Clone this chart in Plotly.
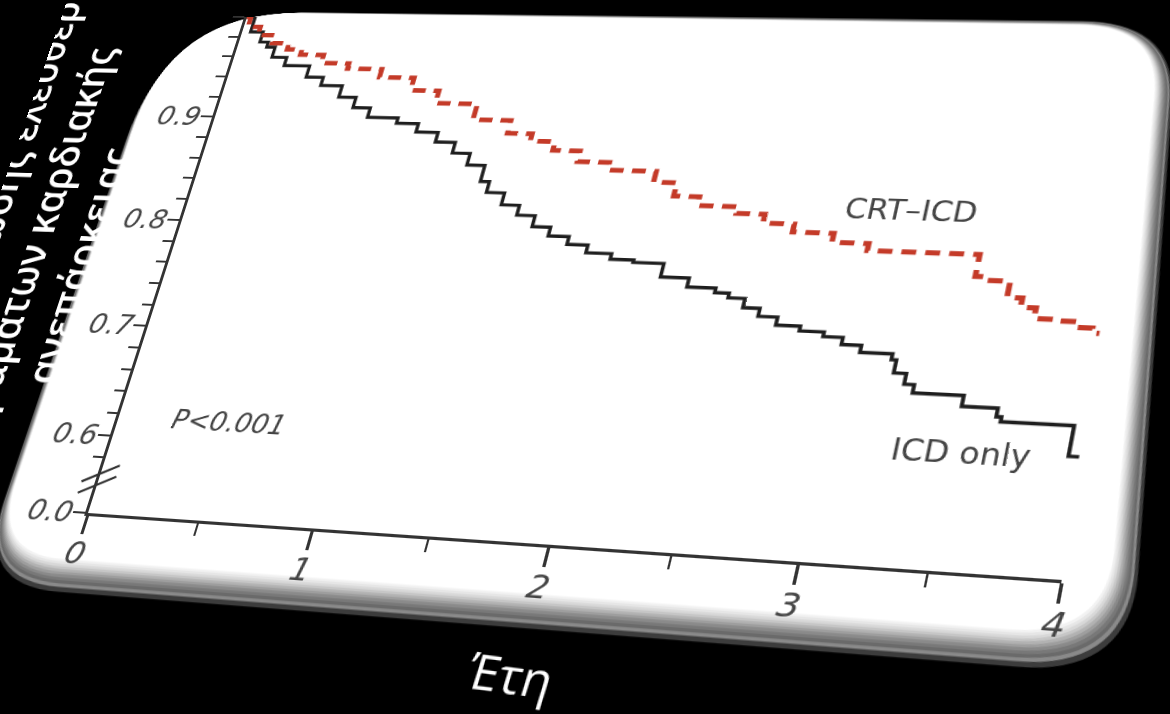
import numpy as np
import plotly.graph_objects as go

# ---------------- data ----------------
icd_years = [0, 0.04, 0.10, 0.14, 0.18, 0.25, 0.37, 0.45, 0.55, 0.63, 0.71, 0.85, 0.95, 1.05,
             1.14, 1.22, 1.30, 1.34, 1.42, 1.50, 1.58, 1.66, 1.75, 1.84, 1.95, 2.05, 2.18,
             2.30, 2.42, 2.48, 2.55, 2.62, 2.70, 2.80, 2.90, 2.98, 3.06, 3.19, 3.21, 3.26,
             3.30, 3.50, 3.64, 3.66, 3.94, 3.98]
icd_surv = [1.0, 0.985, 0.975, 0.970, 0.960, 0.952, 0.941, 0.933, 0.922, 0.912, 0.903, 0.898,
            0.890, 0.881, 0.871, 0.860, 0.845, 0.835, 0.824, 0.815, 0.805, 0.797, 0.790, 0.783,
            0.778, 0.776, 0.764, 0.756, 0.752, 0.748, 0.740, 0.733, 0.726, 0.722, 0.718, 0.712,
            0.706, 0.701, 0.690, 0.681, 0.674, 0.665, 0.658, 0.654, 0.629, 0.629]

crt_years = [0, 0.02, 0.08, 0.16, 0.24, 0.31, 0.42, 0.55, 0.71, 0.87, 1.00, 1.19, 1.36, 1.47,
             1.58, 1.70, 1.84, 2.05, 2.15, 2.26, 2.43, 2.55, 2.68, 2.85, 3.00, 3.45, 3.50,
             3.59, 3.65, 3.71, 3.81, 3.88, 3.94, 3.97]
crt_surv = [1.0, 0.990, 0.982, 0.974, 0.968, 0.963, 0.955, 0.950, 0.942, 0.930, 0.918, 0.903,
            0.891, 0.884, 0.876, 0.866, 0.859, 0.849, 0.837, 0.829, 0.823, 0.815, 0.808, 0.800,
            0.794, 0.775, 0.772, 0.758, 0.750, 0.741, 0.740, 0.735, 0.731, 0.731]

x_tick_vals = [0, 1, 2, 3, 4]
x_tick_text = ["0", "1", "2", "3", "4"]
x_minor_vals = [0.5, 1.5, 2.5, 3.5]
y_tick_real = [0.0, 0.6, 0.7, 0.8, 0.9, 1.0]
y_tick_text = ["0.0", "0.6", "0.7", "0.8", "0.9", "1.0"]

series_names = ["ICD only", "CRT\u2013ICD"]
y_title = "Πιθανότητα επιβίωσης ελεύθερης<br>συμβαμάτων καρδιακής<br>ανεπάρκειας"
x_title = "Έτη"
p_text = "P<0.001"

# ---------------- axis break: 0.0 drawn just below 0.6 ----------------
Y_ZERO_POS = 0.531
def ypos(v):
    return Y_ZERO_POS + v if v < 0.5 else v

y_tick_vals = [ypos(v) for v in y_tick_real]
y_minor_vals = [round(v, 2) for v in np.arange(0.58, 1.0, 0.02)
                if min(abs(v - t) for t in y_tick_vals) > 1e-6]
# the top label sits off the slide's rounded corner, where it is hidden
y_tick_labels = [f'<span style="color:#000000">{t}</span>' if v == 1.0 else t
                 for v, t in zip(y_tick_real, y_tick_text)]

# ---------------- flat layout geometry ----------------
FIG_W, FIG_H = 1300, 820
L, T, W, H = 200, 80, 880, 532
X0, X1 = 0.0, 4.0
Y0, Y1 = Y_ZERO_POS, 1.0

def to_px(x, y):
    return L + (x - X0) / (X1 - X0) * W, T + (Y1 - y) / (Y1 - Y0) * H

def px_to_paper(fx, fy):
    return (fx - L) / W, (T + H - fy) / H

def d2p(x, y):
    return px_to_paper(*to_px(x, y))

def rounded_path(corners, radii):
    pts = [np.array(to_px(*c)) for c in corners]
    n = len(pts)
    segs = []
    for i in range(n):
        p, prv, nxt = pts[i], pts[i - 1], pts[(i + 1) % n]
        r = radii[i]
        a = p + r * (prv - p) / np.linalg.norm(prv - p)
        b = p + r * (nxt - p) / np.linalg.norm(nxt - p)
        segs.append((a, p, b))
    def P(q):
        px, py = px_to_paper(*q)
        return f"{px:.5f},{py:.5f}"
    d = f"M{P(segs[0][0])} Q{P(segs[0][1])} {P(segs[0][2])}"
    for a, p, b in segs[1:]:
        d += f" L{P(a)} Q{P(p)} {P(b)}"
    return d + " Z"

# card outline (outer bevel edge and inner white face), in data units: TL, TR, BR, BL
card_outer = np.array([(-0.385, 1.005), (4.05, 1.005), (4.31, 0.462), (-0.40, 0.462)])
card_inner = np.array([(-0.372, 1.005), (3.985, 1.001), (4.20, 0.490), (-0.372, 0.490)])
card_radii = np.array([150, 84, 90, 84])
bevel_colors = ["#3c3c3c", "#8a8a8a", "#6a6a6a", "#787878", "#8a8a8a", "#9e9e9e", "#b2b2b2",
                "#c6c6c6", "#d8d8d8", "#e6e6e6", "#f2f2f2", "#ffffff"]

shapes = []
nlay = len(bevel_colors)
for k, col in enumerate(bevel_colors):
    t = (k / (nlay - 1)) ** 0.8
    c = card_outer + t * (card_inner - card_outer)
    shapes.append(dict(type="path", xref="paper", yref="paper", layer="below",
                       path=rounded_path(c, card_radii - 12 * t), fillcolor=col,
                       line=dict(width=0)))

# axis break marks
BREAK_Y = [0.566, 0.556]
for by in BREAK_Y:
    xa, ya = d2p(-0.075, by - 0.008)
    xb, yb = d2p(0.075, by + 0.008)
    shapes.append(dict(type="line", xref="paper", yref="paper", layer="above",
                       x0=xa, y0=ya, x1=xb, y1=yb, line=dict(color="#333", width=2.4)))

# ---------------- figure ----------------
fig = go.Figure()
fig.add_trace(go.Scatter(x=icd_years, y=icd_surv, mode="lines", name=series_names[0],
                         line=dict(color="#1e1e1e", width=3.4, shape="hv")))
fig.add_trace(go.Scatter(x=crt_years, y=crt_surv, mode="lines", name=series_names[1],
                         line=dict(color="#C43A28", width=5, shape="hv", dash="13px,8px")))

tick_col = "#333333"
lab_col = "#454545"
fig.update_layout(
    width=FIG_W, height=FIG_H,
    margin=dict(l=L, r=FIG_W - L - W, t=T, b=FIG_H - T - H),
    paper_bgcolor="black", plot_bgcolor="rgba(0,0,0,0)",
    showlegend=False,
    shapes=shapes,
    xaxis=dict(range=[X0, X1], showline=True, linecolor=tick_col, linewidth=2.6,
               ticks="outside", tickvals=x_tick_vals, ticktext=x_tick_text,
               ticklen=18, tickwidth=2.6, tickcolor=tick_col, ticklabelstandoff=-8,
               tickfont=dict(family="DejaVu Sans", size=31, color=lab_col, style="italic"),
               minor=dict(tickmode="array", tickvals=x_minor_vals, ticks="outside",
                          ticklen=12, tickwidth=2.3, tickcolor=tick_col),
               showgrid=False, zeroline=False),
    yaxis=dict(range=[Y0, Y1], showline=True, linecolor=tick_col, linewidth=2.6,
               ticks="outside", tickvals=y_tick_vals, ticktext=y_tick_labels,
               ticklen=12, tickwidth=2.3, tickcolor=tick_col, ticklabelstandoff=-5,
               tickfont=dict(family="DejaVu Sans", size=28, color=lab_col, style="italic"),
               minor=dict(tickmode="array", tickvals=y_minor_vals, ticks="outside",
                          ticklen=10, tickwidth=2.1, tickcolor=tick_col),
               showgrid=False, zeroline=False),
)

fig.add_annotation(x=0.50, y=0.617, text=p_text, showarrow=False,
                   font=dict(family="DejaVu Sans", size=26, color="#444", style="italic"))
fig.add_annotation(x=3.14, y=0.830, text=series_names[1], showarrow=False,
                   font=dict(family="DejaVu Sans", size=28, color="#444"))
fig.add_annotation(x=3.53, y=0.627, text=series_names[0], showarrow=False,
                   font=dict(family="DejaVu Sans", size=28, color="#444"))

# titles live outside the axis ranges, so they are placed in paper units
xt_p, yt_p = d2p(1.98, Y0 - 0.137)
fig.add_annotation(x=xt_p, y=yt_p, xref="paper", yref="paper", text=x_title,
                   showarrow=False, textangle=3,
                   font=dict(family="Open Sans", size=44, color="white"))
yx_p, yy_p = d2p(-0.658, 0.755)
fig.add_annotation(x=yx_p, y=yy_p, xref="paper", yref="paper", text=y_title,
                   showarrow=False, textangle=-90, xanchor="center", yanchor="middle",
                   align="center",
                   font=dict(family="Open Sans", size=41, color="white", weight=600))

# ---------------- perspective of the tilted slide ----------------
# (x, v) -> screen, v = y - Y0
Mh = np.array([[216.6, 377.6, 88.0],
               [2.08, -1055.0, 513.0],
               [-0.0253, 0.156, 1.0]])
A = np.array([[(X1 - X0) / W, 0, -L * (X1 - X0) / W],
              [0, -(Y1 - Y0) / H, (T + H) * (Y1 - Y0) / H],
              [0, 0, 1]])
Hm = Mh @ A
Hm = Hm / Hm[2, 2]
m = [Hm[0, 0], Hm[1, 0], 0, Hm[2, 0],
     Hm[0, 1], Hm[1, 1], 0, Hm[2, 1],
     0, 0, 1, 0,
     Hm[0, 2], Hm[1, 2], 0, Hm[2, 2]]
mstr = "matrix3d(" + ",".join(f"{v:.10g}" for v in m) + ")"

post = (
    "var gd=document.getElementById('{plot_id}');"
    "document.documentElement.style.background='black';"
    "document.documentElement.style.overflow='hidden';"
    "document.body.style.margin='0';"
    "document.body.style.background='black';"
    "document.body.style.overflow='hidden';"
    "gd.style.transformOrigin='0 0';"
    "gd.style.transform='" + mstr + "';"
)

fig.write_html("out.html", post_script=post, config={"displayModeBar": False})
